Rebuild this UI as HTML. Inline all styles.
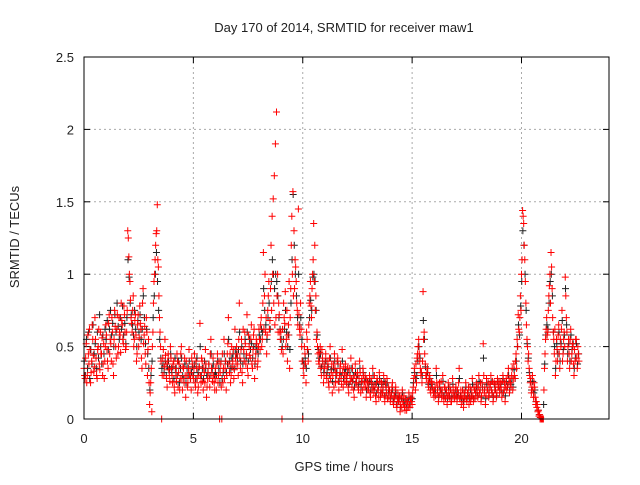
<!DOCTYPE html>
<html><head><meta charset="utf-8"><style>
body{margin:0;background:#fff}
svg text{font-family:"Liberation Sans",sans-serif;font-size:13px;fill:#222}
</style></head><body>
<svg id="chart" width="640" height="480" xmlns="http://www.w3.org/2000/svg">
<rect width="640" height="480" fill="#fff"/>
<text x="344" y="32" text-anchor="middle">Day 170 of 2014, SRMTID for receiver maw1</text>
<text x="344" y="471" text-anchor="middle">GPS time / hours</text>
<text transform="translate(19,237) rotate(-90)" text-anchor="middle">SRMTID / TECUs</text>
<g id="grid"></g>
<g id="ticks"></g>
<g id="marks"></g>
<rect x="84" y="57" width="525" height="362" fill="none" stroke="#000" stroke-width="1"/>
</svg>
<script>
const xTicks=[0,5,10,15,20];
const yTicks=[0,0.5,1,1.5,2,2.5];
const yTickLabels=["0","0.5","1","1.5","2","2.5"];
const sampleStart=0;
const sampleStep=0.05;
const srmtid=[
.35,.28,.52,.30,.45,.62,.25,.40,.55,.33,.70,.42,.28,.50,.38,.60,.45,.30,.52,.40,
.65,.48,.35,.72,.55,.40,.60,.30,.75,.50,.62,.45,.70,.58,.80,.65,.52,.72,.48,.60,
1.30,1.12,.95,.70,.60,.85,.55,.72,.40,.65,.50,.78,.62,.35,.90,.58,.45,.70,.30,.55,
.10,.25,.05,.60,.95,1.10,1.28,1.48,1.05,.70,.50,0,.42,.30,.55,.38,.22,.45,.30,.50,
.35,.25,.40,.18,.30,.45,.22,.38,.28,.50,.20,.35,.42,.15,.30,.25,.48,.32,.20,.38,
.28,.45,.22,.35,.18,.30,.66,.25,.40,.20,.32,.48,.15,.28,.38,.22,.55,.30,.42,.25,
.35,.20,.45,.30,0,.38,0,.25,.55,.35,.20,.45,.70,.32,.25,.50,.40,.28,.62,.38,
.45,.30,.80,.35,.55,.25,.48,.60,.38,.72,.30,.50,.42,.65,.35,.58,.28,.45,.52,.40,
.62,.48,.70,.55,1.15,.85,.60,.45,.75,.95,.68,1.20,1.40,1.52,1.68,1.90,2.12,1.0,.80,.60,
.60,0,.45,.70,.88,.55,.40,.65,.35,.90,1.40,1.57,1.30,1.10,.95,.75,1.45,.62,.80,.50,
0,.30,.45,.25,.55,.40,.80,.95,.70,1.00,1.35,1.20,.85,.60,.45,.38,.50,.30,.42,.25,
.35,.45,.28,.40,.22,.50,.32,.18,.38,.45,.25,.30,.42,.20,.35,.28,.48,.22,.30,.38,
.25,.35,.18,.30,.42,.22,.28,.15,.38,.25,.32,.20,.40,.18,.28,.35,.22,.30,.15,.25,
.20,.30,.15,.25,.35,.18,.22,.12,.28,.20,.32,.15,.25,.18,.30,.12,.22,.28,.15,.20,
.12,.18,.25,.10,.15,.22,.08,.18,.12,.05,.15,.20,.10,.08,.14,.06,.12,.18,.08,.15,
.10,.22,.35,.20,.25,.45,.55,.40,.30,.25,.88,.60,.38,.28,.35,.22,.30,.18,.25,.20,
.15,.22,.35,.18,.12,.25,.20,.15,.30,.12,.22,.18,.10,.25,.15,.20,.12,.28,.18,.15,
.22,.12,.18,.35,.15,.10,.20,.08,.15,.25,.12,.18,.10,.22,.15,.28,.12,.20,.18,.25,
.15,.30,.20,.12,.25,.52,.18,.10,.28,.20,.15,.22,.30,.18,.12,.25,.20,.15,.28,.22,
.18,.25,.15,.30,.20,.12,.28,.22,.35,.18,.25,.30,.20,.38,.28,.45,.55,.72,.60,.85,
1.00,1.44,1.35,1.10,.80,.55,.40,.35,.25,.18,.30,.15,.22,.10,.08,.05,.02,0,0,0,
0,.35,.55,.70,.60,.85,1.00,1.15,.90,.60,.45,.30,.55,.40,.65,.35,.50,.75,.45,.60,
.98,.70,.40,.55,.35,.62,.45,.50,.30,.40,.55,.35,.45];
const srmtid2Start=0.025;
const srmtid2=[
.30,.42,.25,.58,.38,.48,.32,.65,.44,.36,.55,.30,.48,.62,.34,.45,.56,.38,.28,.50,
.58,.40,.66,.45,.52,.70,.38,.55,.64,.42,.72,.50,.60,.46,.68,.55,.78,.60,.50,.75,
1.25,1.00,.82,.66,.75,.50,.68,.58,.45,.72,.56,.66,.42,.80,.52,.64,.38,.60,.48,.25,
.18,.35,.50,.80,1.00,1.20,1.30,1.10,.85,.60,.40,.30,.48,.36,.44,.28,.40,.34,.26,.42,
.30,.38,.22,.35,.26,.40,.32,.20,.45,.28,.36,.25,.30,.40,.22,.35,.30,.28,.42,.30,
.35,.25,.40,.28,.22,.36,.30,.42,.26,.35,.25,.38,.22,.32,.28,.45,.35,.26,.30,.20,
.28,.38,.25,.40,.32,.22,.45,.35,.28,.40,.30,.52,.38,.45,.30,.36,.48,.34,.42,.50,
.38,.55,.42,.48,.32,.62,.40,.52,.45,.35,.58,.44,.55,.38,.48,.62,.40,.55,.36,.50,
.55,.65,.50,.80,.62,1.00,.70,.58,.85,.62,.90,.75,1.00,.80,.65,.70,.85,.60,.72,.55,
.48,.62,.80,.66,.50,.75,.58,.95,.70,1.20,1.00,.85,.90,1.05,.80,.65,.72,.58,.62,.40,
.35,.50,.38,.60,.48,.65,.85,.78,.90,1.10,.95,.75,.55,.50,.40,.46,.35,.48,.38,.30,
.40,.30,.36,.25,.42,.28,.38,.30,.22,.35,.32,.40,.26,.30,.38,.24,.32,.36,.26,.30,
.30,.22,.35,.26,.28,.35,.20,.30,.25,.30,.22,.28,.32,.25,.20,.30,.26,.22,.28,.20,
.25,.18,.28,.20,.22,.30,.16,.25,.20,.15,.26,.20,.18,.22,.16,.25,.18,.14,.22,.18,
.15,.22,.12,.16,.20,.10,.14,.12,.16,.10,.08,.12,.16,.06,.10,.12,.08,.10,.14,.12,
.18,.28,.30,.38,.42,.50,.45,.35,.32,.40,.55,.45,.30,.32,.25,.28,.20,.26,.22,.18,
.20,.16,.25,.22,.16,.18,.26,.20,.16,.22,.14,.20,.16,.18,.22,.12,.18,.22,.14,.20,
.16,.20,.25,.14,.20,.16,.12,.18,.20,.14,.18,.22,.15,.12,.20,.16,.22,.14,.22,.18,
.22,.18,.25,.16,.20,.30,.22,.16,.20,.25,.18,.24,.20,.26,.16,.20,.24,.18,.22,.26,
.22,.20,.26,.18,.25,.22,.20,.30,.25,.28,.22,.35,.28,.30,.40,.35,.50,.62,.70,.75,
1.10,1.40,1.20,.95,.65,.50,.45,.30,.28,.22,.20,.25,.15,.12,.10,.06,.03,.01,0,0,
.20,.45,.62,.58,.75,.92,.80,1.05,.70,.55,.62,.40,.48,.58,.45,.55,.62,.40,.55,.50,
.85,.60,.50,.45,.55,.40,.52,.38,.48,.55,.42,.50,.40];
const blackStart=0.012;
const blackVals=[
.40,.30,.55,.35,.60,.28,.48,.38,.65,.45,.52,.35,.60,.42,.72,.50,.38,.58,.45,.62,
.55,.68,.48,.62,.75,.58,.66,.50,.72,.60,.80,.64,.55,.70,.62,.78,.58,.66,.52,.70,
1.10,.98,.80,.72,.65,.58,.75,.62,.50,.68,.60,.72,.55,.62,.85,.70,.52,.62,.45,.35,
.20,.30,.40,.70,.85,1.00,1.15,.95,.75,.55,.42,.35,.38,.32,.40,.30,.36,.40,.35,.45,
.32,.36,.28,.42,.35,.30,.40,.25,.35,.42,.30,.28,.38,.25,.35,.30,.40,.28,.32,.36,
.30,.38,.28,.42,.32,.36,.50,.30,.35,.28,.40,.35,.30,.32,.38,.30,.45,.35,.38,.30,
.32,.30,.40,.35,.25,.40,.28,.32,.45,.40,.32,.38,.55,.40,.35,.42,.45,.35,.48,.45,
.42,.48,.60,.40,.50,.38,.45,.55,.42,.60,.40,.55,.48,.52,.42,.50,.38,.50,.48,.45,
.58,.55,.62,.60,.90,.75,.65,.55,.70,.80,.62,.95,1.10,1.00,.90,1.00,.95,.85,.70,.62,
.55,.50,.55,.62,.75,.60,.50,.58,.48,.80,1.10,1.55,1.20,1.00,.85,.70,1.00,.65,.70,.55,
.40,.38,.42,.35,.48,.45,.70,.82,.75,.98,1.00,.95,.75,.58,.48,.42,.45,.36,.40,.32,
.38,.40,.32,.36,.30,.42,.34,.26,.35,.40,.30,.32,.38,.26,.32,.30,.40,.28,.32,.34,
.28,.32,.24,.30,.35,.26,.30,.22,.32,.28,.30,.24,.35,.22,.26,.32,.26,.28,.20,.26,
.22,.26,.20,.24,.30,.20,.24,.18,.26,.22,.28,.18,.24,.20,.26,.16,.22,.25,.18,.20,
.14,.18,.20,.12,.16,.18,.10,.15,.14,.08,.14,.18,.12,.10,.13,.08,.12,.15,.10,.14,
.14,.25,.32,.28,.30,.40,.50,.42,.32,.30,.68,.55,.36,.30,.32,.24,.28,.22,.24,.20,
.18,.20,.30,.20,.15,.22,.20,.18,.26,.16,.20,.18,.14,.22,.16,.20,.15,.24,.18,.16,
.20,.15,.18,.28,.16,.14,.20,.12,.16,.22,.14,.18,.14,.20,.16,.24,.14,.20,.18,.22,
.16,.26,.20,.15,.22,.42,.20,.14,.24,.20,.16,.22,.26,.18,.15,.24,.20,.16,.26,.22,
.20,.24,.18,.28,.20,.16,.26,.22,.30,.20,.24,.28,.22,.34,.28,.40,.50,.65,.58,.78,
.95,1.30,1.20,1.00,.75,.52,.42,.32,.26,.20,.26,.18,.20,.12,.10,.06,.03,.01,0,0,
.10,.38,.58,.65,.62,.80,.95,1.00,.85,.60,.50,.35,.52,.45,.60,.40,.52,.68,.48,.58,
.90,.65,.45,.52,.40,.58,.48,.52,.35,.42,.52,.38,.45];

const X0=84,X1=609,Y0=419,Y1=57,XMAX=24,YMAX=2.5;
const xs=v=>X0+(X1-X0)*v/XMAX;
const ys=v=>Y0-(Y0-Y1)*v/YMAX;
const NS="http://www.w3.org/2000/svg";
function mk(tag,attrs,parent){const e=document.createElementNS(NS,tag);for(const k in attrs)e.setAttribute(k,attrs[k]);parent.appendChild(e);return e;}
const grid=document.getElementById('grid'),ticks=document.getElementById('ticks'),marks=document.getElementById('marks');
xTicks.forEach(t=>{
  const x=xs(t);
  if(t>0){const g=mk('line',{x1:x,x2:x,y1:Y1,y2:Y0,stroke:'#aaa','stroke-dasharray':'2,3'},grid);
  
  }
  mk('line',{x1:x,x2:x,y1:Y0,y2:Y0-6,stroke:'#000'},ticks);
  mk('line',{x1:x,x2:x,y1:Y1,y2:Y1+6,stroke:'#000'},ticks);
  const l=mk('text',{x:x,y:Y0+24,'text-anchor':'middle'},ticks);l.textContent=t;
  
  
});
yTicks.forEach((t,i)=>{
  const y=ys(t);
  if(t>0&&t<YMAX){const g=mk('line',{x1:X0,x2:X1,y1:y,y2:y,stroke:'#aaa','stroke-dasharray':'2,3'},grid);
  
  }
  mk('line',{x1:X0,x2:X0+6,y1:y,y2:y,stroke:'#000'},ticks);
  mk('line',{x1:X1,x2:X1-6,y1:y,y2:y,stroke:'#000'},ticks);
  const l=mk('text',{x:X0-10,y:y+5,'text-anchor':'end'},ticks);l.textContent=yTickLabels[i];
  
  
});
function drawSeries(vals,start,color,name){
  vals.forEach((v,i)=>{
    const x=xs(start+i*sampleStep),y=ys(v);
    const p=mk('path',{d:`M${x-3.5},${y}H${x+3.5}M${x},${y-3.5}V${y+3.5}`,stroke:color,'stroke-width':1,fill:'none'},marks);
    
    
  });
}
drawSeries(blackVals,blackStart,'#222','black-data-point');
drawSeries(srmtid,sampleStart,'#f00','data-point');
drawSeries(srmtid2,srmtid2Start,'#f00','data-point-b');
</script>
</body></html>
